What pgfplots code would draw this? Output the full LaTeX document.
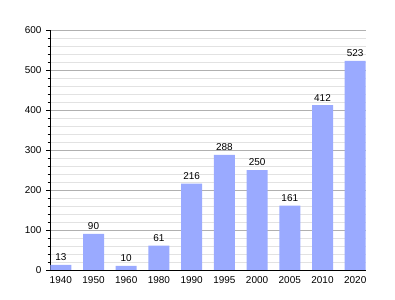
\documentclass[border=0pt]{standalone}
\usepackage{pgfplots}
\pgfplotsset{compat=1.18}
\usepackage{fontspec}
\setmainfont{Liberation Sans}
\definecolor{barc}{HTML}{9AAAFF}
\definecolor{majg}{HTML}{B0B0B0}
\definecolor{ming}{HTML}{E2E2E2}
\begin{document}
\begin{tikzpicture}[x=1bp,y=1bp]
\useasboundingbox (0,0) rectangle (395,300);
\begin{axis}[
  at={(50bp,30bp)}, anchor=south west,
  scale only axis, width=316bp, height=240bp,
  xmin=-0.33, xmax=9.33, ymin=0, ymax=600,
  axis x line*=bottom, axis y line*=left,
  axis line style={black, -, line width=0.8pt},
  xtick={0,...,9},
  xticklabels={1940,1950,1960,1980,1990,1995,2000,2005,2010,2020},
  x tick style={draw=none},
  ytick={0,100,...,600},
  minor y tick num=4,
  ymajorgrids, yminorgrids,
  major grid style={majg, line width=0.6pt},
  minor grid style={ming, line width=0.6pt},
  y tick style={black, line width=0.6pt},
  major tick length=4bp, minor tick length=2.5bp,
  tick align=outside,
  tick label style={font=\fontsize{10}{11}\selectfont},
  /pgf/number format/assume math mode=true,
  xticklabel style={yshift=1bp},
  yticklabel style={xshift=-1bp},
  nodes near coords,
  every node near coord/.append style={font=\fontsize{10}{11}\selectfont, black, yshift=0.5bp},
  enlargelimits=false,
  clip=false,
]
\addplot[ybar, bar width=21bp, fill=barc, draw=none, bar shift=0pt] coordinates {
(0,13) (1,90) (2,10) (3,61) (4,216) (5,288) (6,250) (7,161) (8,412) (9,523)
};
\end{axis}
\end{tikzpicture}
\end{document}
